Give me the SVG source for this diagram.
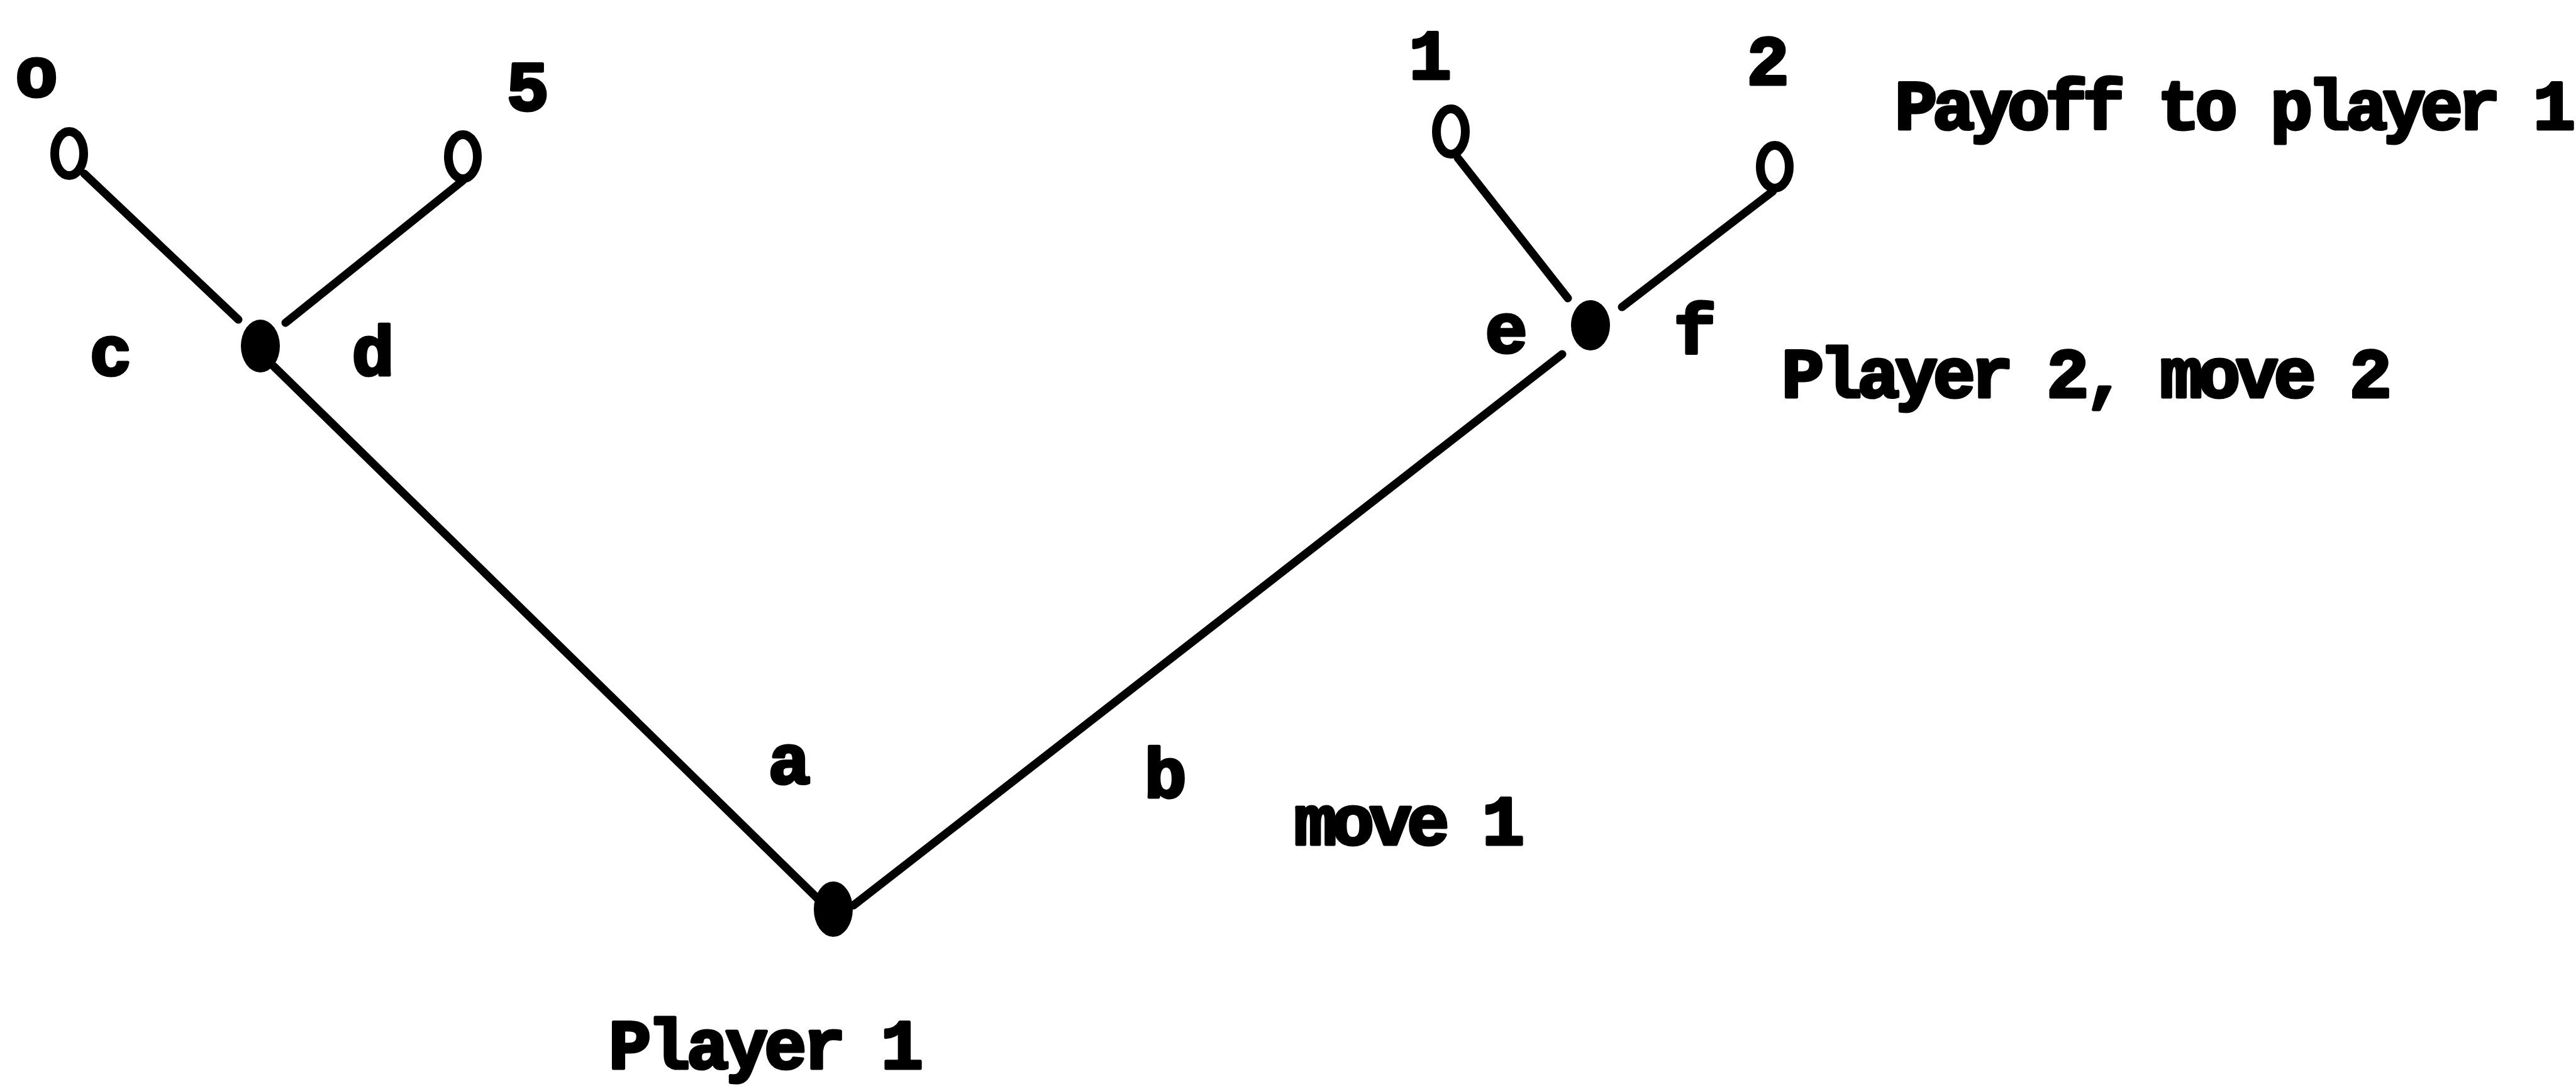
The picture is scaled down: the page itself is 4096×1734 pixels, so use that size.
<svg xmlns="http://www.w3.org/2000/svg" width="4096" height="1734" viewBox="0 0 4096 1734">
<style>
  .t { font-family: "Liberation Mono", "Courier New", monospace; font-weight: bold; font-size: 112px; fill: #000; stroke: #000; stroke-width: 5; stroke-linejoin: round; }
  .m { text-anchor: middle; }
  .edge { stroke: #000; stroke-width: 13; stroke-linecap: round; fill: none; }
  .dec { fill: #000; }
  .term { fill: none; stroke: #000; stroke-width: 14; }
</style>
<rect width="4096" height="1734" fill="#fff"/>
<g id="connectors">
  <line class="edge" x1="134" y1="276" x2="379" y2="508"/>
  <line class="edge" x1="736" y1="287" x2="454" y2="513"/>
  <line class="edge" x1="435" y1="582" x2="1301" y2="1429"/>
  <line class="edge" x1="1357" y1="1439" x2="2484" y2="563"/>
  <line class="edge" x1="2318" y1="251" x2="2493" y2="474"/>
  <line class="edge" x1="2819" y1="304" x2="2579" y2="488"/>
</g>
<g id="root">
  <ellipse class="dec" cx="1325" cy="1445" rx="31" ry="44"/>
</g>
<g id="node-left">
  <ellipse class="dec" cx="414" cy="550" rx="31" ry="42"/>
</g>
<g id="node-right">
  <ellipse class="dec" cx="2529" cy="517" rx="31" ry="40"/>
</g>
<g id="leaf-c">
  <ellipse class="term" cx="110" cy="244" rx="23" ry="35"/>
</g>
<g id="leaf-d">
  <ellipse class="term" cx="736" cy="249" rx="23" ry="35"/>
</g>
<g id="leaf-e">
  <ellipse class="term" cx="2307" cy="209" rx="23" ry="36"/>
</g>
<g id="leaf-f">
  <ellipse class="term" cx="2822" cy="265" rx="23" ry="34"/>
</g>
<g id="labels">
  <text class="t m" x="58" y="153">o</text>
  <text class="t m" x="839" y="175">5</text>
  <text class="t m" x="2274" y="125">1</text>
  <text class="t m" x="2811" y="134">2</text>
  <text class="t m" x="176" y="596">c</text>
  <text class="t m" x="593" y="596">d</text>
  <text class="t m" x="2395" y="560">e</text>
  <text class="t m" x="2695" y="562">f</text>
  <text class="t m" x="1255" y="1245">a</text>
  <text class="t m" x="1853" y="1267">b</text>
  <text class="t" x="2058" y="1342" textLength="366" lengthAdjust="spacing">move 1</text>
  <text class="t" x="3013" y="205" textLength="1082" lengthAdjust="spacing">Payoff to player 1</text>
  <text class="t" x="2833" y="631" textLength="970" lengthAdjust="spacing">Player 2, move 2</text>
  <text class="t" x="968" y="1698" textLength="500" lengthAdjust="spacing">Player 1</text>
</g>
</svg>
